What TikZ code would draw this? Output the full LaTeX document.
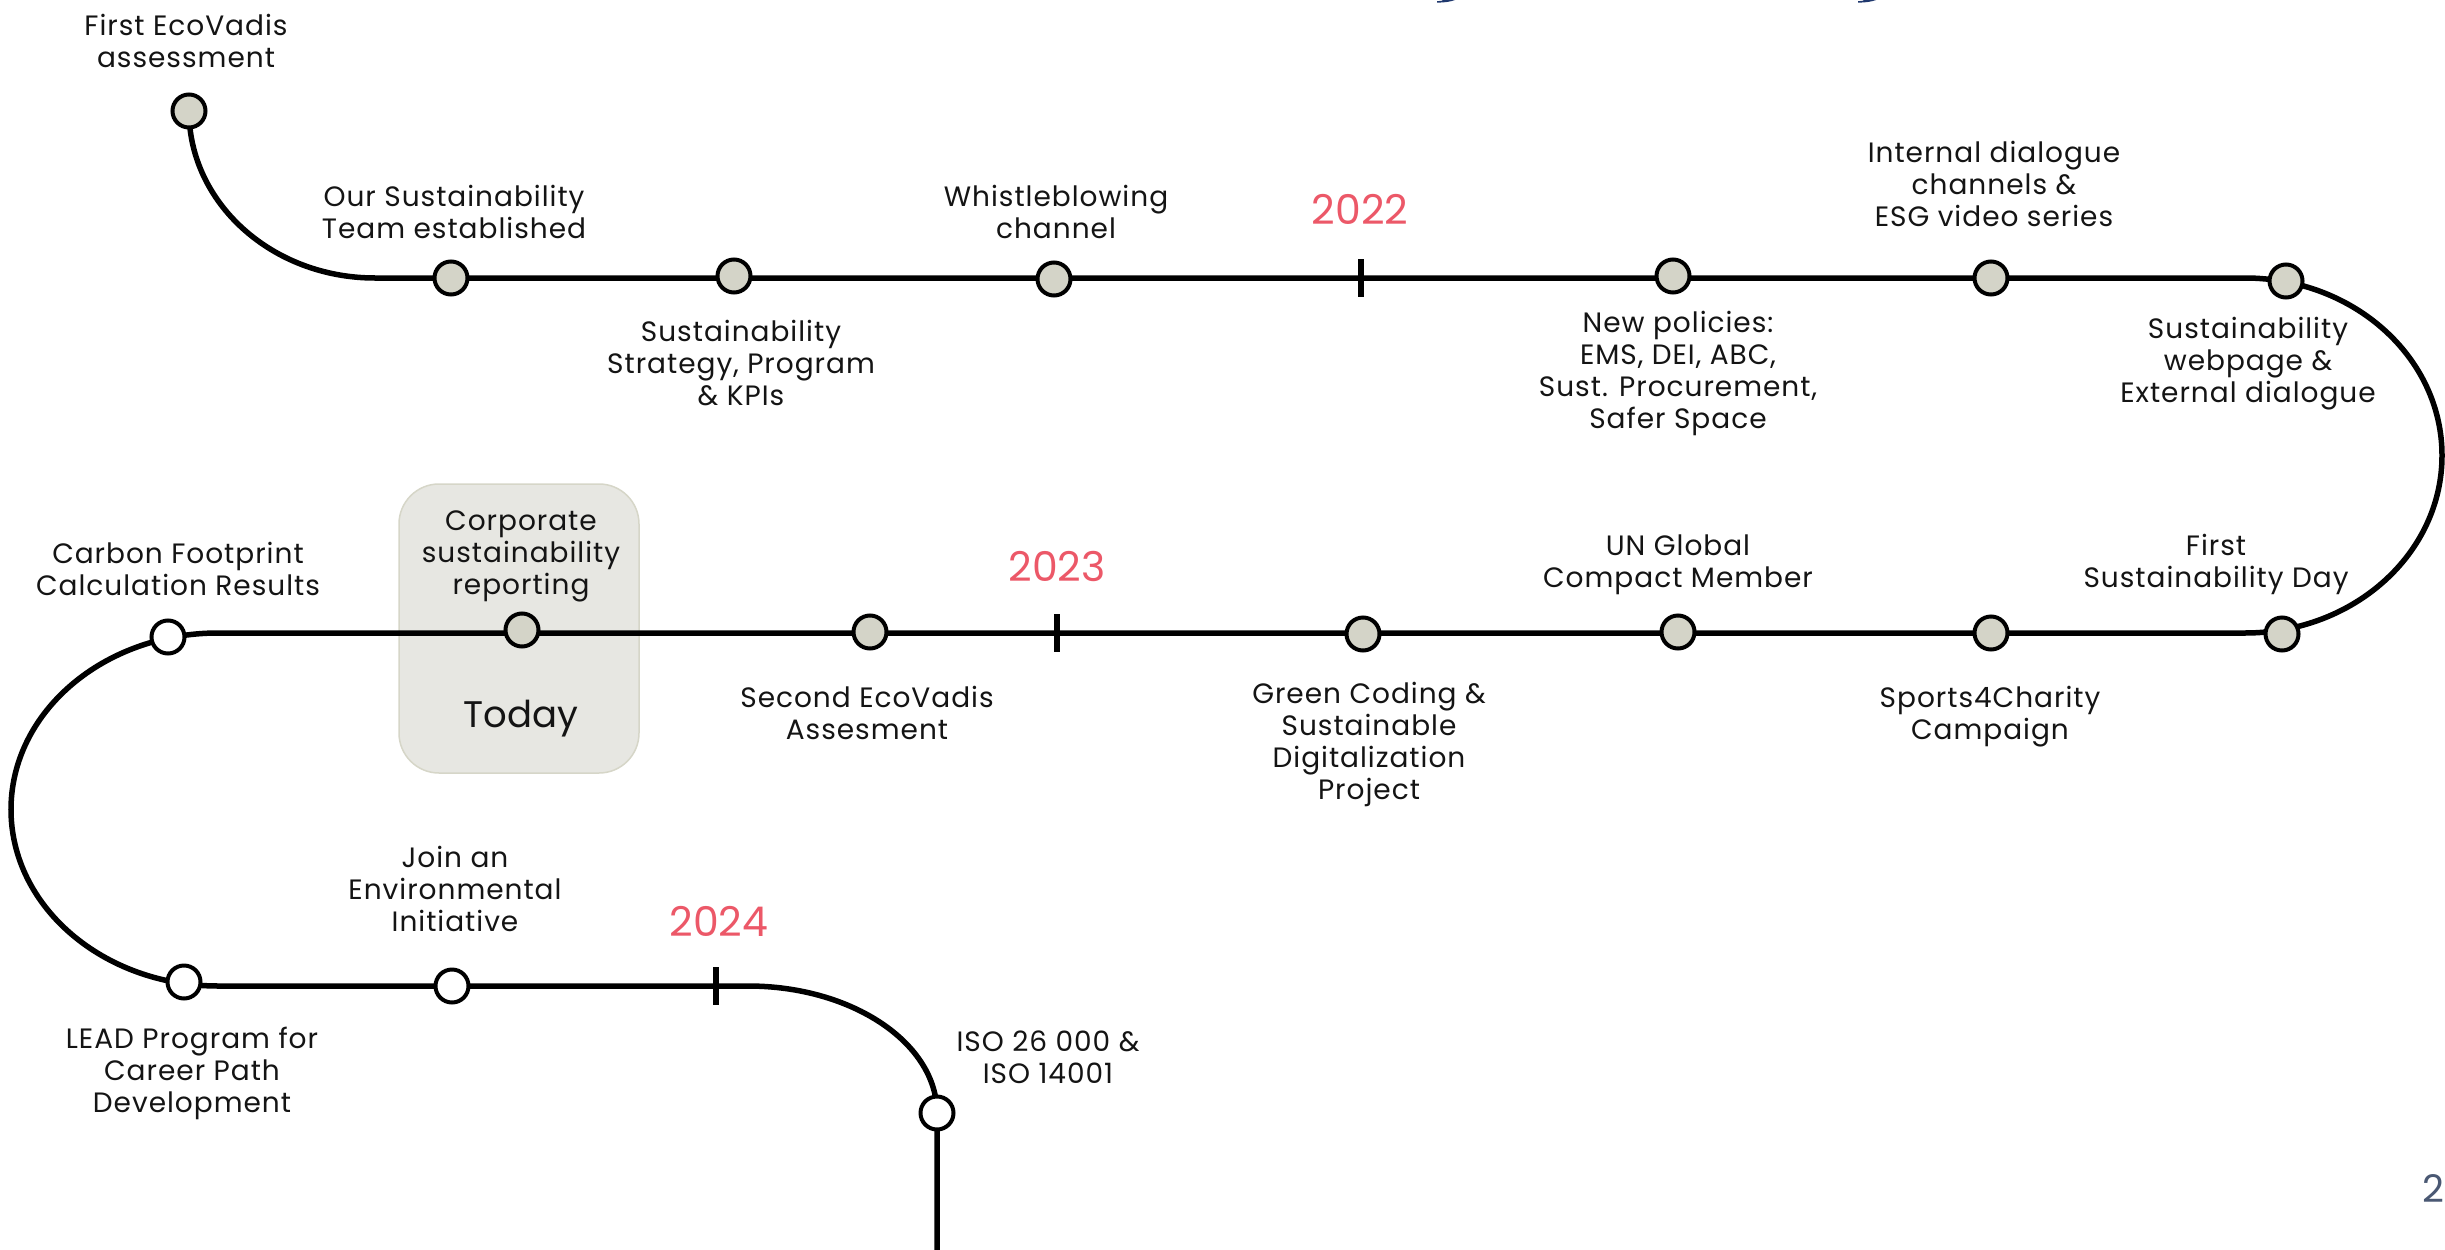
\documentclass[tikz,border=0pt]{standalone}
\usepackage{fontspec}
\setmainfont{Poppins}
\newfontfamily\lblfont{Poppins}[LetterSpace=3.5]
\definecolor{nodefill}{RGB}{212,212,200}
\definecolor{yearred}{RGB}{236,88,104}
\definecolor{todayfill}{RGB}{231,231,226}
\definecolor{todayline}{RGB}{214,214,200}
\definecolor{pagenum}{RGB}{74,88,115}
\definecolor{navy}{RGB}{31,56,110}
\definecolor{txt}{RGB}{20,20,20}
\begin{document}
\begin{tikzpicture}[x=1pt,y=-1pt,
  track/.style={line width=5.5pt, draw=black},
  tickmark/.style={line width=6pt, draw=black},
  ev/.style={circle, draw=black, line width=4pt, fill=nodefill, minimum size=33pt, inner sep=0pt},
  evw/.style={ev, fill=white},
  lbl/.style={align=center, font=\lblfont\fontsize{28}{32}\selectfont, text=txt, inner sep=0pt},
  yr/.style={font=\fontsize{41}{46}\selectfont, text=yearred, inner sep=0pt},
  todaybox/.style={draw=todayline, fill=todayfill, line width=1.5pt, rounded corners=40pt, minimum width=240pt, minimum height=289pt, inner sep=0pt}
]
\useasboundingbox (0,0) rectangle (2445,1250);
\fill[white] (0,0) rectangle (2445,1250);

% track coordinates
\coordinate (c1) at (375,278);
\coordinate (c2) at (2245,278);
\coordinate (c3) at (218,633);
\coordinate (c4) at (748,986);
\coordinate (c5) at (937,1250);
\coordinate (pfe) at (189,111);
\coordinate (piso) at (937,1113);

% cut-off title marks
\fill[navy] (1437,2.6) .. controls (1446,2.6) and (1452,1.2) .. (1455,0) -- (1443,0) .. controls (1442,0.8) .. (1437,1.2) -- cycle;
\fill[navy] (1858,2.6) .. controls (1867,2.6) and (1873,1.2) .. (1876,0) -- (1864,0) .. controls (1863,0.8) .. (1858,1.2) -- cycle;

% today box
\node[todaybox] (today) at (519,628.5) {};

% the track
\draw[track] (pfe) .. controls (189,203) and (272,278) .. (c1) -- (c2)
  arc[start angle=-90, end angle=90, x radius=197, y radius=177.5] -- (c3)
  arc[start angle=-90, end angle=-270, x radius=207, y radius=176.5] -- (c4)
  .. controls (852,986) and (937,1043) .. (piso) -- (c5);

% year ticks
\coordinate (t22) at (1361,278);
\coordinate (t23) at (1057,633);
\coordinate (t24) at (716,986);
\draw[tickmark] ([yshift=19pt]t22) -- ([yshift=-19pt]t22);
\draw[tickmark] ([yshift=19pt]t23) -- ([yshift=-19pt]t23);
\draw[tickmark] ([yshift=19pt]t24) -- ([yshift=-19pt]t24);

% events row 1
\node[ev] (fe) at (pfe) {};
\node[ev] (team) at (451,278) {};
\node[ev] (strat) at (734,276) {};
\node[ev] (whistle) at (1054,279) {};
\node[ev] (policies) at (1673,276) {};
\node[ev] (internal) at (1991,278) {};
\node[ev] (webpage) at (2286,281) {};
% row 2
\node[ev] (firstday) at (2282,634) {};
\node[ev] (sports) at (1991,633) {};
\node[ev] (un) at (1678,632) {};
\node[ev] (green) at (1363,634) {};
\node[ev] (second) at (870,632) {};
\node[ev] (corp) at (522,630) {};
\node[evw] (carbon) at (168,637) {};
% row 3
\node[evw] (lead) at (184,982) {};
\node[evw] (join) at (452,986) {};
\node[evw] (iso) at (piso) {};

% labels
\node[lbl] (lfe) at (186,41) {First EcoVadis\\assessment};
\node[lbl] (lteam) at (454,212) {Our Sustainability\\Team established};
\node[lbl] (lstrat) at (741,363) {Sustainability\\Strategy, Program\\\& KPIs};
\node[lbl] (lwhistle) at (1056,212) {Whistleblowing\\channel};
\node[yr] (y22) at (1360,209) {2022};
\node[lbl] (lpolicies) at (1678,373) {New policies:\\EMS, DEI, ABC,\\Sust. Procurement,\\Safer Space};
\node[lbl] (linternal) at (1994,184) {Internal dialogue\\channels \&\\ESG video series};
\node[lbl] (lwebpage) at (2248,364) {Sustainability\\webpage \&\\External dialogue};
\node[lbl] (lfirstday) at (2216,564) {First\\Sustainability Day};
\node[lbl] (lun) at (1678,565) {UN Global\\Compact Member};
\node[yr] (y23) at (1057,566) {2023};
\node[lbl] (lcarbon) at (178,569) {Carbon Footprint\\Calculation Results};
\node[lbl] (lcorp) at (521,556) {Corporate\\sustainability\\reporting};
\node[font=\fontsize{37}{44}\selectfont, text=txt, inner sep=0pt] (ltoday) at (521,719) {Today};
\node[lbl] (lsecond) at (867,713) {Second EcoVadis\\Assesment};
\node[lbl] (lgreen) at (1369,744) {Green Coding \&\\Sustainable\\Digitalization\\Project};
\node[lbl] (lsports) at (1990,717) {Sports4Charity\\Campaign};
\node[lbl] (ljoin) at (455,889) {Join an\\Environmental\\Initiative};
\node[yr] (y24) at (719,921) {2024};
\node[lbl] (llead) at (192,1073) {LEAD Program for\\Career Path\\Development};
\node[lbl] (liso) at (1048,1057) {ISO 26 000 \&\\ISO 14001};

% page number
\node[font=\fontsize{38}{44}\selectfont, text=pagenum, anchor=base west, inner sep=0pt] (pnum) at (2422,1202) {2};
\end{tikzpicture}
\end{document}
